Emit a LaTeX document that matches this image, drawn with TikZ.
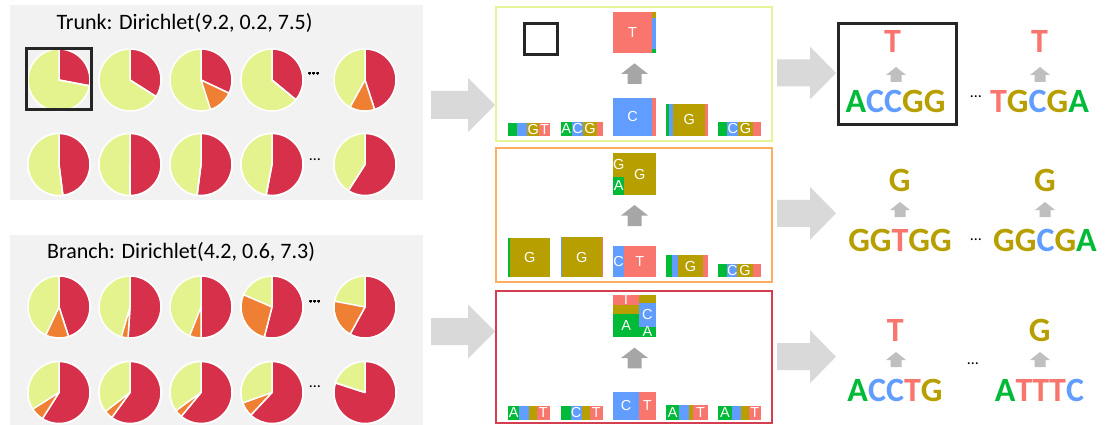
\documentclass[tikz,border=0pt]{standalone}
\usepackage{fontspec}
\setmainfont{Carlito}
\newfontfamily\cellfont{Liberation Sans}
\usetikzlibrary{calc}

\definecolor{baseA}{HTML}{00BA38}
\definecolor{baseC}{HTML}{619CFF}
\definecolor{baseG}{HTML}{B79F00}
\definecolor{baseT}{HTML}{F8766D}
\definecolor{pieRed}{HTML}{D6304A}
\definecolor{pieOrange}{HTML}{EE7F33}
\definecolor{pieYellow}{HTML}{E4F38E}
\definecolor{panelGray}{HTML}{F2F2F2}
\definecolor{frameYellow}{HTML}{E6F598}
\definecolor{frameOrange}{HTML}{FDAE61}
\definecolor{frameRed}{HTML}{D53E4F}
\definecolor{frameDark}{HTML}{262626}

\newcommand{\seqA}{\textcolor{baseA}{A}}
\newcommand{\seqC}{\textcolor{baseC}{C}}
\newcommand{\seqG}{\textcolor{baseG}{G}}
\newcommand{\seqT}{\textcolor{baseT}{T}}

% pie: x, y, red share, orange share
\newcommand{\piechart}[4]{%
  \fill[pieYellow, wedge] (#1,#2) circle[radius=31];
  \fill[pieRed, wedge] (#1,#2) -- ++(-90:31) arc[start angle=-90, delta angle={#3*360}, radius=31] -- cycle;
  \fill[pieOrange, wedge] (#1,#2) -- ++({-90+#3*360}:31) arc[start angle={-90+#3*360}, delta angle={#4*360}, radius=31] -- cycle;}

% cell: name, x1, y1, x2, y2, fill, letter
\newcommand{\cell}[7]{%
  \fill[#6] (#2,#3) rectangle (#4,#5);
  \node[cellletter] (#1) at ({(#2+#4)/2},{(#3+#5)/2}) {#7};}

% right block arrow: tail, neck, tip, mid y, shaft half, head half
\newcommand{\rightblock}[6]{%
  \fill[bigarrow] (#1,#4-#5) -- (#2,#4-#5) -- (#2,#4-#6) -- (#3,#4) -- (#2,#4+#6) -- (#2,#4+#5) -- (#1,#4+#5) -- cycle;}

% up block arrow: style, x, top, neck, bottom, shaft half, head half
\newcommand{\upblock}[7]{%
  \fill[#1] (#2,#3) -- (#2+#7,#4) -- (#2+#6,#4) -- (#2+#6,#5) -- (#2-#6,#5) -- (#2-#6,#4) -- (#2-#7,#4) -- cycle;}

\begin{document}
\begin{tikzpicture}[
  x=1pt, y=-1pt,
  wedge/.style={draw=white, line width=1.5pt, line join=round},
  panel/.style={fill=panelGray},
  title/.style={font=\fontsize{22}{26}\selectfont, anchor=base, inner sep=0pt},
  dots/.style={font=\fontsize{16}{16}\selectfont, inner sep=0pt},
  cellletter/.style={text=white, font=\cellfont\fontsize{14.5}{14.5}\selectfont, inner sep=0pt},
  seqtext/.style={font=\bfseries\fontsize{34}{36}\selectfont, inner sep=0pt, anchor=base},
  bigarrow/.style={fill=black!15},
  steparrow/.style={fill=black!35},
  seqarrow/.style={fill=black!25},
  mark box/.style={draw=frameDark, line width=3pt},
  group/.style={line width=2pt}
]
  \useasboundingbox (0,0) rectangle (1109,425);

  % Trunk samples
  \fill[panel] (10,5) rectangle (423,200);
  \node[title] (trunk) at (184.5,30) {Trunk: Dirichlet(9.2, 0.2, 7.5)};
  \foreach \x/\r/\o in {59/0.28/0, 130/0.34/0, 201/0.32/0.13, 272/0.36/0, 365/0.45/0.13}
    \piechart{\x}{80}{\r}{\o}
  \foreach \x/\r/\o in {59/0.48/0, 130/0.5/0, 201/0.52/0, 272/0.53/0, 365/0.59/0}
    \piechart{\x}{164.5}{\r}{\o}
  \node[dots] (tdots1) at (314,73.5) {…};
  \node[dots] (tdots2) at (315,160) {…};
  \draw[mark box] (26.5,48.5) rectangle (91.5,109.5);

  % Branch samples
  \fill[panel] (10,235) rectangle (423,425);
  \node[title] (branch) at (181,258.5) {Branch: Dirichlet(4.2, 0.6, 7.3)};
  \foreach \x/\r/\o in {59/0.45/0.12, 130/0.51/0.035, 201/0.5/0.06, 272/0.54/0.275, 365/0.58/0.2}
    \piechart{\x}{307}{\r}{\o}
  \foreach \x/\r/\o in {59/0.59/0.07, 130/0.6/0.045, 201/0.61/0.04, 272/0.62/0.075, 365/0.8/0}
    \piechart{\x}{392.5}{\r}{\o}
  \node[dots] (bdots1) at (315,301.5) {…};
  \node[dots] (bdots2) at (315,386.5) {…};

  \rightblock{431}{468}{495}{105}{14}{27}
  \rightblock{431}{468}{495}{331.5}{13.5}{27}

  % Yellow group
  \draw[group, frameYellow] (496,7) rectangle (772,141);
  \draw[frameDark, line width=2.7pt] (524.3,23.3) rectangle (557.7,54.7);
  \cell{yl0t}{613.3}{12}{652}{53}{baseT}{T}
  \cell{yl0g}{652}{12}{655.7}{18.3}{baseG}{}
  \cell{yl0c}{652}{18.3}{655.7}{48.7}{baseC}{}
  \cell{yl0a}{652}{48.7}{655.7}{53}{baseA}{}
  \upblock{steparrow}{634.5}{63.3}{74}{84}{7}{13.5}
  \cell{yl1a}{508.3}{123}{517.3}{136}{baseA}{}
  \cell{yl1c}{517.3}{123}{527.3}{136}{baseC}{}
  \cell{yl1g}{527.3}{123}{539}{136}{baseG}{G}
  \cell{yl1t}{539}{123}{550}{136}{baseT}{T}
  \cell{yl2a}{560.7}{122}{571.7}{136}{baseA}{A}
  \cell{yl2c}{571.7}{122}{583.3}{136}{baseC}{C}
  \cell{yl2g}{583.3}{122}{596.7}{136}{baseG}{G}
  \cell{yl2t}{596.7}{122}{602.7}{136}{baseT}{}
  \cell{yl3c}{613.3}{98}{651.7}{136}{baseC}{C}
  \cell{yl3t}{651.7}{98}{655.7}{136}{baseT}{}
  \cell{yl4a}{666}{104}{669}{136}{baseA}{}
  \cell{yl4c}{669}{104}{673.3}{136}{baseC}{}
  \cell{yl4g}{673.3}{104}{705}{136}{baseG}{G}
  \cell{yl4t}{705}{104}{707.7}{136}{baseT}{}
  \cell{yl5a}{718.3}{122}{727.3}{136}{baseA}{}
  \cell{yl5c}{727.3}{122}{738.3}{136}{baseC}{C}
  \cell{yl5g}{738.3}{122}{752.7}{136}{baseG}{G}
  \cell{yl5t}{752.7}{122}{760.7}{136}{baseT}{}

  % Orange group
  \draw[group, frameOrange] (496,148) rectangle (772,282);
  \cell{og0g}{613.3}{153.3}{624}{176.7}{baseG}{G}
  \cell{og0a}{613.3}{176.7}{624}{195}{baseA}{A}
  \cell{og0gg}{624}{153.3}{655.7}{195}{baseG}{G}
  \upblock{steparrow}{634.5}{205}{215.5}{226}{7}{13.5}
  \cell{og1a}{508.3}{237.7}{509.5}{277.3}{baseA}{}
  \cell{og1g}{509.5}{237.7}{550}{277.3}{baseG}{G}
  \cell{og2a}{560.7}{237.3}{561.3}{277.3}{baseA}{}
  \cell{og2c}{561.3}{237.3}{562}{277.3}{baseC}{}
  \cell{og2g}{562}{237.3}{601.7}{277.3}{baseG}{G}
  \cell{og2t}{601.7}{237.3}{602.7}{277.3}{baseT}{}
  \cell{og3c}{613.3}{246}{624}{277.3}{baseC}{C}
  \cell{og3t}{624}{246}{655.7}{277.3}{baseT}{T}
  \cell{og4a}{666}{255}{672}{277.3}{baseA}{}
  \cell{og4c}{672}{255}{678.3}{277.3}{baseC}{}
  \cell{og4g}{678.3}{255}{702.7}{277.3}{baseG}{G}
  \cell{og4t}{702.7}{255}{707.7}{277.3}{baseT}{}
  \cell{og5a}{718.3}{264}{727.3}{277.3}{baseA}{}
  \cell{og5c}{727.3}{264}{737.3}{277.3}{baseC}{C}
  \cell{og5g}{737.3}{264}{752.7}{277.3}{baseG}{G}
  \cell{og5t}{752.7}{264}{760.7}{277.3}{baseT}{}

  % Red group
  \draw[group, frameRed] (496,291) rectangle (772,423);
  \cell{rd0t}{613.3}{295}{639}{305}{baseT}{T}
  \cell{rd0g}{613.3}{305}{639}{314.3}{baseG}{}
  \cell{rd0a}{613.3}{314.3}{639}{337.3}{baseA}{A}
  \cell{rd0gg}{639}{295}{655.7}{303.3}{baseG}{}
  \cell{rd0c}{639}{303.3}{655.7}{326.7}{baseC}{C}
  \cell{rd0aa}{639}{326.7}{655.7}{337.3}{baseA}{A}
  \upblock{steparrow}{634.5}{347.7}{358}{368.3}{7}{13.5}
  \cell{rd1a}{508.3}{406}{519.3}{420}{baseA}{A}
  \cell{rd1c}{519.3}{406}{529}{420}{baseC}{}
  \cell{rd1g}{529}{406}{536.7}{420}{baseG}{}
  \cell{rd1t}{536.7}{406}{550}{420}{baseT}{T}
  \cell{rd2a}{560.7}{406}{570.7}{420}{baseA}{}
  \cell{rd2c}{570.7}{406}{581.7}{420}{baseC}{C}
  \cell{rd2g}{581.7}{406}{590}{420}{baseG}{}
  \cell{rd2t}{590}{406}{602.7}{420}{baseT}{T}
  \cell{rd3c}{613.3}{391.7}{639}{420}{baseC}{C}
  \cell{rd3t}{639}{391.7}{655.7}{420}{baseT}{T}
  \cell{rd4a}{666}{405}{679.3}{420}{baseA}{A}
  \cell{rd4c}{679.3}{405}{689}{420}{baseC}{}
  \cell{rd4g}{689}{405}{693.3}{420}{baseG}{}
  \cell{rd4t}{693.3}{405}{707.7}{420}{baseT}{T}
  \cell{rd5a}{718.3}{406}{731.7}{420}{baseA}{A}
  \cell{rd5c}{731.7}{406}{740.7}{420}{baseC}{}
  \cell{rd5g}{740.7}{406}{749}{420}{baseG}{}
  \cell{rd5t}{749}{406}{760.7}{420}{baseT}{T}

  \rightblock{777}{810}{836}{73}{13.5}{26.5}
  \rightblock{777}{810}{836}{213.3}{13.5}{26.5}
  \rightblock{777}{810}{836}{356.7}{13.5}{26.5}

  % Sequences and predicted bases
  \node[seqtext] (out1a) at (892.5,53) {\seqT};
  \node[seqtext] (seq1a) at (895.5,113) {\seqA\seqC\seqC\seqG\seqG};
  \node[seqtext] (out1b) at (1039.5,53) {\seqT};
  \node[seqtext] (seq1b) at (1039.5,113) {\seqT\seqG\seqC\seqG\seqA};
  \upblock{seqarrow}{896}{67}{75}{82}{5.5}{10}
  \upblock{seqarrow}{1040}{67}{75}{82}{5.5}{10}
  \node[dots] (sdots1) at (975.8,96.7) {…};
  \draw[mark box] (838.5,23.5) rectangle (956.5,124.5);

  \node[seqtext] (out2a) at (899.7,191.7) {\seqG};
  \node[seqtext] (seq2a) at (900,251) {\seqG\seqG\seqT\seqG\seqG};
  \node[seqtext] (out2b) at (1045,191.7) {\seqG};
  \node[seqtext] (seq2b) at (1045,251) {\seqG\seqG\seqC\seqG\seqA};
  \upblock{seqarrow}{900}{202}{210}{217}{5.5}{10}
  \upblock{seqarrow}{1045}{202}{210}{217}{5.5}{10}
  \node[dots] (sdots2) at (975.8,239.3) {…};

  \node[seqtext] (out3a) at (895.3,341.7) {\seqT};
  \node[seqtext] (seq3a) at (895,401) {\seqA\seqC\seqC\seqT\seqG};
  \node[seqtext] (out3b) at (1039.7,341.7) {\seqG};
  \node[seqtext] (seq3b) at (1039.5,401) {\seqA\seqT\seqT\seqT\seqC};
  \upblock{seqarrow}{896}{352}{360}{367}{5.5}{10}
  \upblock{seqarrow}{1040}{352}{360}{367}{5.5}{10}
  \node[dots] (sdots3) at (973,363.3) {…};
\end{tikzpicture}
\end{document}
